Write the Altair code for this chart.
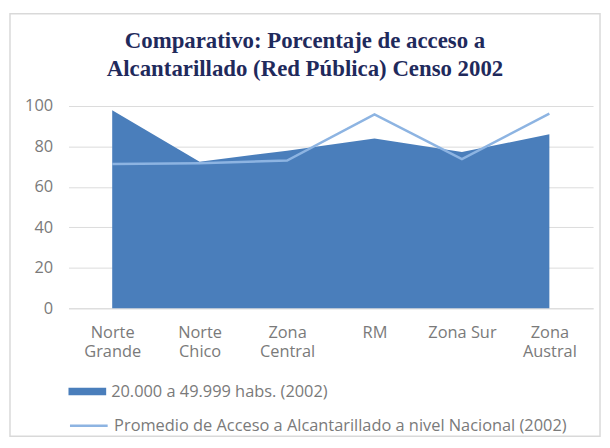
import altair as alt
import pandas as pd

categorias = ["Norte Grande", "Norte Chico", "Zona Central", "RM", "Zona Sur", "Zona Austral"]
habs_20000_49999 = [97.9, 72.5, 77.9, 83.9, 77.2, 86.0]
promedio_nacional = [71.3, 71.7, 73.0, 95.9, 73.8, 96.2]

serie_area = "20.000 a 49.999 habs. (2002)"
serie_linea = "Promedio de Acceso a Alcantarillado a nivel Nacional (2002)"

df = pd.DataFrame({
    "region": categorias,
    "area": habs_20000_49999,
    "linea": promedio_nacional,
    "s_area": serie_area,
    "s_linea": serie_linea,
})

label_color = "#7a7a7a"
grid_color = "#dcdcdc"
font = "Open Sans"
fs = 16.5

x_enc = alt.X(
    "region:N",
    sort=categorias,
    scale=alt.Scale(type="point", padding=0.5),
    axis=alt.Axis(
        title=None,
        labelAngle=0,
        labelExpr="datum.label == 'Zona Sur' || datum.label == 'RM' ? datum.label : split(datum.label, ' ')",
        labelFont=font,
        labelFontSize=fs,
        labelColor=label_color,
        labelPadding=16,
        labelLineHeight=20,
        ticks=False,
        domain=True,
        domainColor=grid_color,
        grid=False,
    ),
)

y_axis = alt.Axis(
    title=None,
    values=[0, 20, 40, 60, 80, 100],
    labelFont=font,
    labelFontSize=fs,
    labelColor=label_color,
    labelPadding=16,
    ticks=False,
    domain=False,
    grid=True,
    gridColor=grid_color,
)

base = alt.Chart(df)

area = base.mark_area(opacity=1).encode(
    x=x_enc,
    y=alt.Y("area:Q", scale=alt.Scale(domain=[0, 100], nice=False), axis=y_axis),
    fill=alt.Fill(
        "s_area:N",
        scale=alt.Scale(range=["#4a7ebb"]),
        legend=alt.Legend(
            title=None,
            orient="none",
            legendX=0,
            legendY=269,
            symbolType="M-1,-0.2H1V0.2H-1Z",
            symbolSize=1444,
            symbolStrokeWidth=0,
            labelFont=font,
            labelFontSize=fs,
            labelColor=label_color,
            labelOffset=5,
            labelLimit=600,
        ),
    ),
)

linea = base.mark_line(strokeWidth=2.5).encode(
    x=x_enc,
    y=alt.Y("linea:Q"),
    stroke=alt.Stroke(
        "s_linea:N",
        scale=alt.Scale(range=["#8db4e2"]),
        legend=alt.Legend(
            title=None,
            orient="none",
            legendX=0,
            legendY=302,
            symbolType="stroke",
            symbolSize=1444,
            symbolStrokeWidth=2.5,
            labelFont=font,
            labelFontSize=fs,
            labelColor=label_color,
            labelOffset=5,
            labelLimit=600,
        ),
    ),
)

marco = alt.Chart(alt.InlineData(values=[{"k": 1}])).mark_rect(
    fill="transparent", stroke="#d9d9d9", strokeWidth=1.5
).encode(
    x=alt.value(-59), x2=alt.value(536), y=alt.value(-93), y2=alt.value(333)
)

chart = alt.layer(marco, area, linea).resolve_scale(
    fill="independent", stroke="independent"
).properties(
    width=529,
    height=204,
    padding={"left": 1, "top": 3, "right": 1, "bottom": 1},
    title=alt.TitleParams(
        text=["Comparativo:  Porcentaje de acceso a", "Alcantarillado (Red Pública) Censo 2002"],
        font="Liberation Serif",
        fontSize=23,
        fontWeight="bold",
        color="#1f2a5c",
        anchor="middle",
        frame="bounds",
        lineHeight=29,
        offset=-69,
    ),
).configure_view(stroke=None)

chart.save("out.html", embed_options={"renderer": "svg", "actions": False})
